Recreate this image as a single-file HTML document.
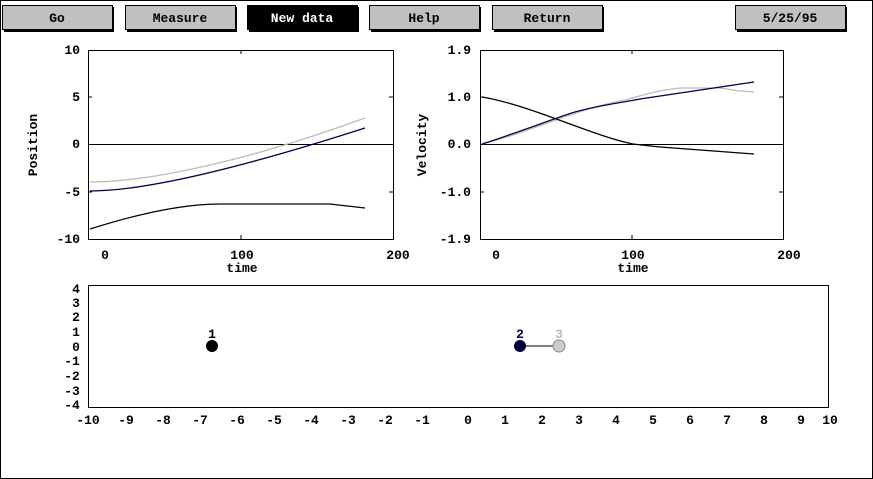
<!DOCTYPE html>
<html><head><meta charset="utf-8"><style>
html,body{margin:0;padding:0;background:#fff}
svg{display:block}
text{font-family:"Liberation Mono",monospace;font-weight:bold;font-size:13px}
</style></head><body>
<svg width="873" height="479" viewBox="0 0 873 479" xmlns="http://www.w3.org/2000/svg">
<rect x="0.5" y="0.5" width="872" height="478" fill="#fff" stroke="#000"/>
<!-- buttons -->
<g stroke="#000" stroke-width="1">
<rect x="2.5" y="5.5" width="110" height="24" fill="#c0c0c0"/>
<rect x="125.5" y="5.5" width="110" height="24" fill="#c0c0c0"/>
<rect x="247.5" y="5.5" width="110" height="24" fill="#000"/>
<rect x="369.5" y="5.5" width="110" height="24" fill="#c0c0c0"/>
<rect x="492.5" y="5.5" width="110" height="24" fill="#c0c0c0"/>
<rect x="735.5" y="5.5" width="110" height="24" fill="#c0c0c0"/>
</g>
<g fill="none" stroke="#000" stroke-width="2">
<path d="M113,7V31H4"/><path d="M236,7V31H127"/><path d="M358,7V31H249"/><path d="M480,7V31H371"/><path d="M603,7V31H494"/><path d="M846,7V31H737"/>
</g>
<g text-anchor="middle">
<text x="57" y="22">Go</text>
<text x="180" y="22">Measure</text>
<text x="302" y="22" fill="#fff">New data</text>
<text x="424" y="22">Help</text>
<text x="547" y="22">Return</text>
<text x="790" y="22">5/25/95</text>
</g>
<!-- position plot -->
<rect x="88.5" y="50.5" width="305" height="189" fill="none" stroke="#000"/>
<line x1="88" y1="144.5" x2="393" y2="144.5" stroke="#000"/>
<g stroke="#000"><line x1="241" y1="50" x2="241" y2="54"/><line x1="241" y1="235" x2="241" y2="239"/><line x1="88" y1="97" x2="92" y2="97"/><line x1="389" y1="97" x2="393" y2="97"/><line x1="88" y1="192" x2="92" y2="192"/><line x1="389" y1="192" x2="393" y2="192"/></g>
<g text-anchor="end">
<text x="80" y="54">10</text><text x="80" y="101">5</text><text x="80" y="148">0</text><text x="80" y="196">-5</text><text x="80" y="243">-10</text>
</g>
<g text-anchor="middle"><text x="105" y="259">0</text><text x="242" y="259">100</text><text x="398" y="259">200</text><text x="242" y="272">time</text></g>
<text transform="translate(37,145) rotate(-90)" text-anchor="middle">Position</text>
<g fill="none" stroke-width="1.3">
<path d="M90,182 C150,182 250,160 365,118" stroke="#bbb"/>
<path d="M90,191 C150,191 250,165 365,128" stroke="#000050"/>
<path d="M90,229 C150,210 190,204 220,204 L330,204 L365,208" stroke="#000"/>
</g>
<!-- velocity plot -->
<rect x="480.5" y="50.5" width="303" height="189" fill="none" stroke="#000"/>
<line x1="480" y1="144.5" x2="783" y2="144.5" stroke="#000"/>
<g stroke="#000"><line x1="632" y1="50" x2="632" y2="54"/><line x1="632" y1="235" x2="632" y2="239"/><line x1="480" y1="97" x2="484" y2="97"/><line x1="779" y1="97" x2="783" y2="97"/><line x1="480" y1="192" x2="484" y2="192"/><line x1="779" y1="192" x2="783" y2="192"/></g>
<g text-anchor="end">
<text x="471" y="54">1.9</text><text x="471" y="101">1.0</text><text x="471" y="148">0.0</text><text x="471" y="196">-1.0</text><text x="471" y="243">-1.9</text>
</g>
<g text-anchor="middle"><text x="496" y="259">0</text><text x="633" y="259">100</text><text x="789" y="259">200</text><text x="633" y="272">time</text></g>
<text transform="translate(426,145) rotate(-90)" text-anchor="middle">Velocity</text>
<g fill="none" stroke-width="1.3">
<path d="M482,144 C530,132 580,108 625,100 C650,93 660,90 680,88 L720,88 L740,91 L754,92" stroke="#bbb"/>
<path d="M482,144 C520,132 555,118 575,112 C600,105 620,103 640,99 L754,82" stroke="#000050"/>
<path d="M482,97 C530,105 590,135 633,144 L660,147 L754,154" stroke="#000"/>
</g>
<!-- bottom plot -->
<rect x="88.5" y="285.5" width="740" height="122" fill="none" stroke="#000"/>
<g text-anchor="middle">
<text x="76" y="293">4</text><text x="76" y="307">3</text><text x="76" y="321">2</text><text x="76" y="336">1</text><text x="76" y="351">0</text><text x="72" y="365">-1</text><text x="72" y="380">-2</text><text x="72" y="395">-3</text><text x="72" y="409">-4</text>
<text x="88" y="424">-10</text><text x="126" y="424">-9</text><text x="163" y="424">-8</text><text x="200" y="424">-7</text><text x="237" y="424">-6</text><text x="274" y="424">-5</text><text x="311" y="424">-4</text><text x="348" y="424">-3</text><text x="385" y="424">-2</text><text x="422" y="424">-1</text><text x="468" y="424">0</text><text x="505" y="424">1</text><text x="542" y="424">2</text><text x="579" y="424">3</text><text x="616" y="424">4</text><text x="653" y="424">5</text><text x="690" y="424">6</text><text x="727" y="424">7</text><text x="764" y="424">8</text><text x="801" y="424">9</text><text x="830" y="424">10</text>
</g>
<line x1="520" y1="346" x2="559" y2="346" stroke="#000"/>
<circle cx="212" cy="346" r="6" fill="#000"/>
<circle cx="520" cy="346" r="6" fill="#000040"/>
<circle cx="559" cy="346" r="6" fill="#ccc" stroke="#888"/>
<g text-anchor="middle"><text x="212" y="338">1</text><text x="520" y="338" fill="#000050">2</text><text x="559" y="338" fill="#bbb">3</text></g>
</svg>
</body></html>
